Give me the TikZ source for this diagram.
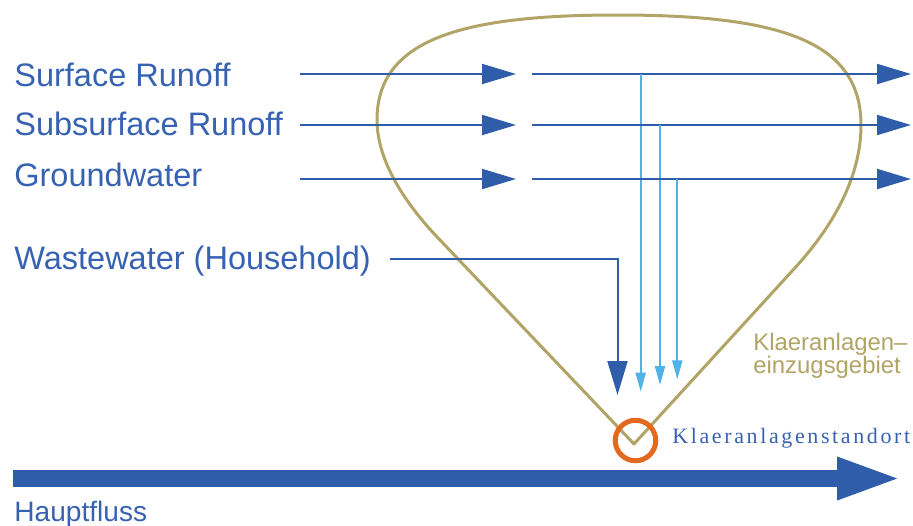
\documentclass[tikz,border=0pt]{standalone}
\usepackage{fontspec}
\setmainfont{Liberation Sans}
\newfontfamily\standortfont[LetterSpace=12]{Liberation Serif}
\usetikzlibrary{arrows.meta}
\definecolor{flowblue}{HTML}{2F5DAA}
\definecolor{lightflow}{HTML}{4FB2E8}
\definecolor{textblue}{HTML}{3762B2}
\definecolor{basinline}{HTML}{B0A466}
\definecolor{ringorange}{HTML}{E2691F}
\tikzset{
  runoff/.style={-{Triangle[length=0.68cm, width=0.4cm]}, line width=0.04cm, draw=flowblue},
  infiltr/.style={-{Triangle[length=0.38cm, width=0.2cm]}, line width=0.04cm, draw=lightflow},
  sewer/.style={-{Triangle[length=0.68cm, width=0.4cm]}, line width=0.04cm, draw=flowblue},
  mainflow/.style={-{Triangle[length=1.32cm, width=0.76cm]}, line width=0.34cm, draw=flowblue},
  inlbl/.style={anchor=base west, inner sep=0pt, text=textblue, font=\fontsize{18.5}{20}\selectfont},
  basin/.style={draw=basinline, line width=0.06cm, line join=round},
  ring/.style={circle, draw=ringorange, line width=0.1cm, minimum size=0.81cm, inner sep=0pt}
}

\begin{document}
\begin{tikzpicture}[x=0.02cm, y=-0.02cm]
\useasboundingbox (0,0) rectangle (913,525);

%% Catchment of the treatment plant
\draw[basin] (634,444) -- (440,240) .. controls (411,210) and (377,165) .. (377,120)
  .. controls (377,40) and (460,15) .. (617,15)
  .. controls (778,15) and (861,40) .. (861,125)
  .. controls (861,180) and (830,230) .. (793,270) -- cycle;
\node[anchor=north west, inner sep=0pt, align=left, text=basinline,
  font=\fontsize{13.6}{13.3}\selectfont] (gebiet) at (753,332.5)
  {Klaeranlagen--\\einzugsgebiet};

%% Inflow labels
\node[inlbl] (surface)    at (14,86.7)  {Surface Runoff};
\node[inlbl] (subsurface) at (14,135)   {Subsurface Runoff};
\node[inlbl] (ground)     at (14,186.7) {Groundwater};
\node[inlbl] (waste)      at (14,269)   {Wastewater (Household)};

%% Runoff components: through the catchment, part drops to the plant
\foreach \name/\y/\xd/\yd in {sr/74/640.7/391.7, ssr/125/660/385, gw/179/677.3/379.3} {
  \coordinate (\name-in)   at (300,\y);
  \coordinate (\name-gap)  at (516,\y);
  \coordinate (\name-on)   at (532,\y);
  \coordinate (\name-out)  at (911,\y);
  \coordinate (\name-tap)  at (\xd,\y);
  \coordinate (\name-drop) at (\xd,\yd);
  \draw[runoff] (\name-in) -- (\name-gap);
  \draw[runoff] (\name-on) -- (\name-out);
  \draw[infiltr] (\name-tap) -- (\name-drop);
}

%% Household wastewater
\coordinate (ww-in)   at (390,259);
\coordinate (ww-drop) at (617.5,395);
\draw[sewer] (ww-in) -| (ww-drop);

%% Treatment plant site
\node[ring] (standort) at (635.5,440.5) {};
\node[anchor=base west, inner sep=0pt, text=textblue,
  font=\standortfont\fontsize{12.5}{14}\selectfont] (standortlbl) at (672,443.5)
  {Klaeranlagenstandort};

%% Main river
\coordinate (main-in)  at (12.7,478.5);
\coordinate (main-out) at (903,478.5);
\draw[mainflow] (main-in) -- (main-out);
\node[inlbl, font=\fontsize{16}{18}\selectfont] (haupt) at (14,521.7) {Hauptfluss};

\end{tikzpicture}
\end{document}
